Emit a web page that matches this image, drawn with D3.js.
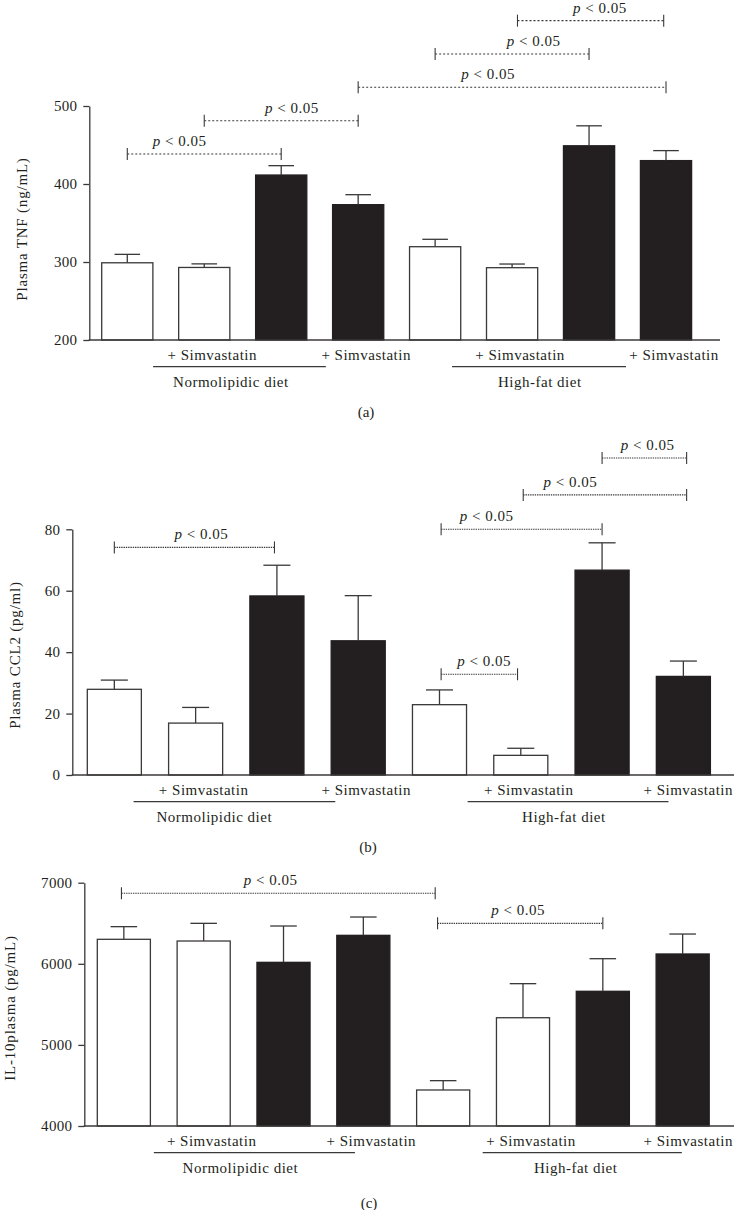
<!DOCTYPE html>
<html>
<head>
<meta charset="utf-8">
<script src="https://cdn.jsdelivr.net/npm/d3@7"></script>
<style>
  html, body { margin: 0; padding: 0; background: #fff; }
  svg { display: block; font-family: "Liberation Serif", "Times New Roman", serif; }
  text { fill: #231f20; }
</style>
</head>
<body>
<svg id="chart" width="734" height="1210"></svg>
<script>
// ---------- DATA ----------
const categories = ["ND", "ND+S", "ND*", "ND*+S", "HF", "HF+S", "HF*", "HF*+S"];
const xLabels = ["", "+ Simvastatin", "", "+ Simvastatin", "", "+ Simvastatin", "", "+ Simvastatin"];
const filled = [false, false, true, true, false, false, true, true];
const groupNames = ["Normolipidic diet", "High-fat diet"];

const tnfMean = [299, 293, 411.5, 373.5, 319.6, 292.7, 449, 430];
const tnfErr  = [10.8, 4.6, 12, 12.8, 9.5, 4.7, 25.6, 12.8];
const tnfTicks = [200, 300, 400, 500];
// [from bar, to bar, level, label position] (positions in bar units)
const tnfSig = [[0, 2, 438.5, 0.68], [1, 3, 481, 2.14], [3, 7, 524, 4.69], [4, 6, 566.7, 5.28], [5.07, 6.97, 609.4, 6.14]];
const tnfGroupLines = [[0.335, 2.58, 1.346], [4.22, 6.48, 5.36]];

const ccl2Mean = [27.9, 16.9, 58.3, 43.7, 22.9, 6.4, 66.7, 32.1];
const ccl2Err  = [3.0, 5.1, 10.0, 14.7, 4.8, 2.3, 8.9, 5.0];
const ccl2Ticks = [0, 20, 40, 60, 80];
const ccl2Sig = [[0, 1.97, 74.1, 1.07], [4.02, 6, 80, 4.58], [5.03, 7.04, 91.2, 5.61], [6, 7.04, 103.2, 6.56], [4.02, 4.96, 32.8, 4.55]];
const ccl2GroupLines = [[0.237, 2.718, 1.23], [4.346, 6.817, 5.53]];

const il10Mean = [6302, 6281, 6018, 6351, 4444, 5335, 5661, 6121];
const il10Err  = [156, 218, 448, 226, 115, 420, 402, 246];
const il10Ticks = [4000, 5000, 6000, 7000];
const il10Sig = [[-0.03, 3.9, 6869, 1.84], [3.93, 6.0, 6499, 4.94]];
const il10GroupLines = [[0.376, 2.895, 1.46], [4.495, 6.99, 5.66]];

// ---------- LAYOUT ----------
const panels = [
  { mean: tnfMean, err: tnfErr, ticks: tnfTicks, sig: tnfSig, groups: tnfGroupLines,
    yLabel: "Plasma TNF (ng/mL)", tag: "(a)",
    axisX: 89.3, yRange: [340, 106], band: [101.7, 691.6], xEnd: 720,
    yLabelX: 27, yLabelY: 229, tagX: 366, tagY: 417, dash: "2,2" },
  { mean: ccl2Mean, err: ccl2Err, ticks: ccl2Ticks, sig: ccl2Sig, groups: ccl2GroupLines,
    yLabel: "Plasma CCL2 (pg/ml)", tag: "(b)",
    axisX: 72.3, yRange: [775, 529.3], band: [87.3, 710.4], xEnd: 734,
    yLabelX: 20, yLabelY: 655, tagX: 368, tagY: 851.5, dash: "1.4,0.9" },
  { mean: il10Mean, err: il10Err, ticks: il10Ticks, sig: il10Sig, groups: il10GroupLines,
    yLabel: "IL-10plasma (pg/mL)", tag: "(c)",
    axisX: 84.3, yRange: [1126, 882.7], band: [97.3, 709.2], xEnd: 734,
    yLabelX: 15, yLabelY: 1008, tagX: 369, tagY: 1208, dash: "1.4,0.9" }
];

const ink = "#231f20";
const lineCol = "#3b3838";
const svg = d3.select("#chart");
const FS = 15;
const LS = "0.5px";

panels.forEach(p => {
  const g = svg.append("g");
  const dom = [p.ticks[0], p.ticks[p.ticks.length - 1]];
  const y = d3.scaleLinear().domain(dom).range(p.yRange);
  const x = d3.scaleBand().domain(categories).range(p.band).paddingInner(0.335).paddingOuter(0);
  const step = x.step();
  const bw = x.bandwidth();
  const cx = i => x(categories[0]) + bw / 2 + i * step;
  const baseY = y(dom[0]);

  // bars
  g.selectAll("rect.bar").data(categories).join("rect")
    .attr("x", d => x(d))
    .attr("y", (d, i) => y(p.mean[i]))
    .attr("width", bw)
    .attr("height", (d, i) => baseY - y(p.mean[i]))
    .attr("fill", (d, i) => filled[i] ? ink : "#fff")
    .attr("stroke", (d, i) => filled[i] ? ink : lineCol)
    .attr("stroke-width", 1.3);

  // error bars
  const capW = bw * 0.5;
  g.selectAll("line.err").data(categories).join("line")
    .attr("x1", d => x(d) + bw / 2).attr("x2", d => x(d) + bw / 2)
    .attr("y1", (d, i) => y(p.mean[i]))
    .attr("y2", (d, i) => y(p.mean[i] + p.err[i]))
    .attr("stroke", lineCol).attr("stroke-width", 1.3);
  g.selectAll("line.cap").data(categories).join("line")
    .attr("x1", d => x(d) + bw / 2 - capW / 2).attr("x2", d => x(d) + bw / 2 + capW / 2)
    .attr("y1", (d, i) => y(p.mean[i] + p.err[i]))
    .attr("y2", (d, i) => y(p.mean[i] + p.err[i]))
    .attr("stroke", lineCol).attr("stroke-width", 1.3);

  // y axis
  const ax = g.append("g").attr("transform", `translate(${p.axisX},0)`)
    .call(d3.axisLeft(y).tickValues(p.ticks).tickSize(6).tickSizeOuter(0).tickPadding(6).tickFormat(d3.format("d")));
  ax.select(".domain").attr("stroke", lineCol).attr("stroke-width", 1.3);
  ax.selectAll(".tick line").attr("stroke", lineCol).attr("stroke-width", 1.3);
  ax.selectAll(".tick text").attr("font-family", "Liberation Serif, serif").attr("font-size", FS)
    .attr("letter-spacing", "0.3px").attr("fill", ink);

  // x axis baseline
  g.append("line").attr("x1", p.axisX - 0.6).attr("x2", p.xEnd)
    .attr("y1", baseY).attr("y2", baseY).attr("stroke", lineCol).attr("stroke-width", 1.3);

  // x labels (kept inside the right edge)
  g.selectAll("text.xl").data(categories).join("text")
    .attr("x", d => x(d) + bw / 2 + 8)
    .attr("y", baseY + 19.5)
    .attr("text-anchor", "middle").attr("font-size", FS).attr("letter-spacing", LS)
    .text((d, i) => xLabels[i])
    .each(function () {
      const b = this.getBBox();
      const over = b.x + b.width - 733;
      if (over > 0) d3.select(this).attr("x", +d3.select(this).attr("x") - over);
    });

  // group lines & names
  p.groups.forEach((gl, k) => {
    g.append("line").attr("x1", cx(gl[0])).attr("x2", cx(gl[1]))
      .attr("y1", baseY + 26.7).attr("y2", baseY + 26.7)
      .attr("stroke", lineCol).attr("stroke-width", 1.2);
    g.append("text").attr("x", cx(gl[2])).attr("y", baseY + 47)
      .attr("text-anchor", "middle").attr("font-size", FS).attr("letter-spacing", LS)
      .text(groupNames[k]);
  });

  // significance brackets
  p.sig.forEach(s => {
    const yy = y(s[2]);
    const x1 = cx(s[0]), x2 = cx(s[1]);
    g.append("line").attr("x1", x1).attr("x2", x2).attr("y1", yy).attr("y2", yy)
      .attr("stroke", lineCol).attr("stroke-width", 1.1).attr("stroke-dasharray", p.dash);
    [x1, x2].forEach(xx => g.append("line").attr("x1", xx).attr("x2", xx)
      .attr("y1", yy - 6).attr("y2", yy + 6).attr("stroke", lineCol).attr("stroke-width", 1.1));
    const t = g.append("text").attr("x", cx(s[3])).attr("y", yy - 8)
      .attr("text-anchor", "middle").attr("font-size", FS).attr("letter-spacing", LS);
    t.append("tspan").attr("font-style", "italic").text("p");
    t.append("tspan").text(" < 0.05");
  });

  // y label
  g.append("text").attr("transform", `translate(${p.yLabelX},${p.yLabelY}) rotate(-90)`)
    .attr("text-anchor", "middle").attr("font-size", FS).attr("letter-spacing", "0.8px")
    .text(p.yLabel);

  // panel tag
  g.append("text").attr("x", p.tagX).attr("y", p.tagY).attr("text-anchor", "middle")
    .attr("font-size", FS).text(p.tag);
});
</script>
</body>
</html>
